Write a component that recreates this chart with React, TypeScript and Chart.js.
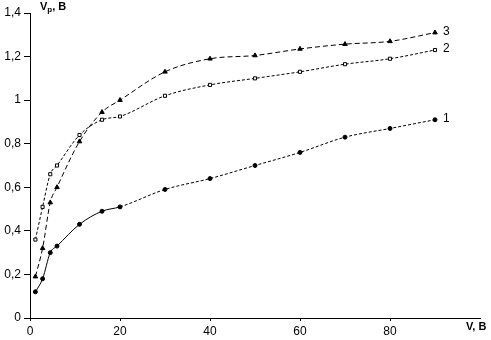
import React, { useEffect, useRef } from "react";
import { Chart, registerables } from "chart.js";

Chart.register(...registerables);

const xValues = [1.2, 2.8, 4.5, 6, 11, 16, 20, 30, 40, 50, 60, 70, 80, 90];
const series1 = [0.12, 0.18, 0.3, 0.33, 0.43, 0.49, 0.51, 0.59, 0.64, 0.7, 0.76, 0.83, 0.87, 0.91];
const series2 = [0.36, 0.51, 0.66, 0.7, 0.84, 0.91, 0.925, 1.02, 1.07, 1.1, 1.13, 1.165, 1.19, 1.23];
const series3 = [0.19, 0.32, 0.53, 0.6, 0.81, 0.945, 1.0, 1.13, 1.19, 1.205, 1.235, 1.257, 1.27, 1.31];
const seriesLabels = ["1", "2", "3"];
const xTicks = [0, 20, 40, 60, 80];
const yAxisTitle = { main: "V", sub: "p", rest: ", B" };
const xAxisTitle = "V, B";

const FONT = "'Liberation Sans', Arial, sans-serif";

const toPoints = (ys: number[]) => xValues.map((x, i) => ({ x, y: ys[i] }));

const textPlugin = {
  id: "texts",
  afterDraw(chart: any) {
    const ctx = chart.ctx;
    const xs = chart.scales.x;
    const ys = chart.scales.y;
    ctx.save();
    ctx.fillStyle = "#000";
    ctx.textBaseline = "alphabetic";
    ctx.textAlign = "left";
    ctx.font = `bold 11px ${FONT}`;
    let x0 = xs.left + 10;
    const yb = 10;
    ctx.fillText(yAxisTitle.main, x0, yb);
    x0 += ctx.measureText(yAxisTitle.main).width;
    ctx.font = `bold 8px ${FONT}`;
    ctx.fillText(yAxisTitle.sub, x0, yb + 2);
    x0 += ctx.measureText(yAxisTitle.sub).width;
    ctx.font = `bold 11px ${FONT}`;
    ctx.fillText(yAxisTitle.rest, x0, yb);
    ctx.fillText(xAxisTitle, xs.right - 14, ys.bottom + 12);
    ctx.font = `12px ${FONT}`;
    ctx.textBaseline = "middle";
    chart.data.datasets.forEach((ds: any, i: number) => {
      const last = ds.data[ds.data.length - 1];
      ctx.fillText(seriesLabels[i], xs.getPixelForValue(last.x) + 8, ys.getPixelForValue(last.y) - 1);
    });
    ctx.restore();
  },
};

export default function App() {
  const ref = useRef<HTMLCanvasElement | null>(null);
  useEffect(() => {
    if (!ref.current) return;
    const common = {
      borderColor: "#000",
      borderWidth: 1,
      pointBorderColor: "#000",
      pointBorderWidth: 1,
      cubicInterpolationMode: "monotone" as const,
      fill: false,
    };
    const chart = new Chart(ref.current, {
      type: "line",
      data: {
        datasets: [
          {
            ...common,
            label: seriesLabels[0],
            data: toPoints(series1),
            pointStyle: "circle",
            pointRadius: 2,
            pointBackgroundColor: "#000",
            borderDash: [3, 2],
            segment: {
              borderDash: (c: any) => (c.p1.parsed.x <= 20 ? [] : [3, 2]),
            },
          },
          {
            ...common,
            label: seriesLabels[1],
            data: toPoints(series2),
            pointStyle: "rect",
            pointRadius: 2.2,
            pointBackgroundColor: "#fff",
            borderDash: [3, 2],
          },
          {
            ...common,
            label: seriesLabels[2],
            data: toPoints(series3),
            pointStyle: "triangle",
            pointRadius: 2.6,
            pointBackgroundColor: "#000",
            borderDash: [5, 3],
          },
        ],
      },
      options: {
        responsive: false,
        animation: false,
        layout: { padding: { top: 13, right: 11, left: 0, bottom: 0 } },
        plugins: { legend: { display: false }, tooltip: { enabled: false } },
        scales: {
          x: {
            type: "linear",
            min: 0,
            max: 100,
            afterFit: (s: any) => {
              s.height = 22;
            },
            afterBuildTicks: (s: any) => {
              s.ticks = [...xTicks, 100].map((v) => ({ value: v }));
            },
            ticks: {
              color: "#000",
              font: { family: FONT, size: 12 },
              padding: 3,
              maxRotation: 0,
              autoSkip: false,
              callback: (v: any) => (xTicks.includes(Number(v)) ? String(v) : ""),
            },
            grid: {
              drawOnChartArea: false,
              tickLength: 3,
              color: (c: any) => (c.tick && c.tick.value === 100 ? "rgba(0,0,0,0)" : "#000"),
            },
            border: { display: true, color: "#000", width: 1 },
          },
          y: {
            type: "linear",
            min: 0,
            max: 1.4,
            afterFit: (s: any) => {
              s.width = 30;
            },
            ticks: {
              stepSize: 0.2,
              color: "#000",
              font: { family: FONT, size: 12 },
              padding: 3,
              callback: (v: any) => String(Number(Number(v).toFixed(1))).replace(".", ","),
            },
            grid: { drawOnChartArea: false, tickLength: 6, color: "#000" },
            border: { display: true, color: "#000", width: 1 },
          },
        },
      },
      plugins: [textPlugin],
    } as any);
    return () => chart.destroy();
  }, []);
  return (
    <div style={{ position: "absolute", left: 0, top: 0, width: 491, height: 340, background: "#fff" }}>
      <canvas ref={ref} width={491} height={340} />
    </div>
  );
}
